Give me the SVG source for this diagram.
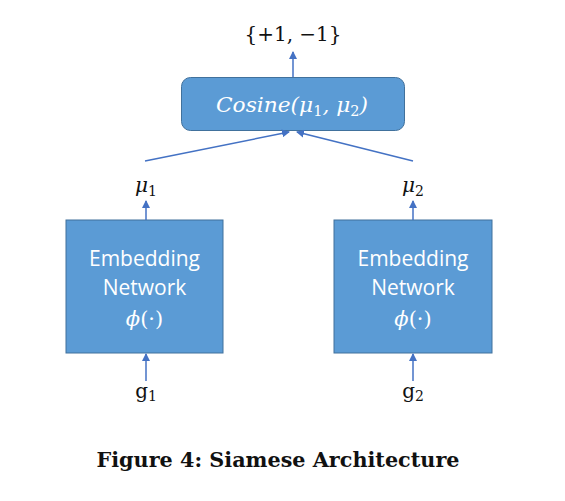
<svg xmlns="http://www.w3.org/2000/svg" width="565" height="501" viewBox="0 0 565 501">
<defs>
<marker id="ah" markerWidth="8" markerHeight="8" refX="7" refY="4" orient="auto" markerUnits="userSpaceOnUse">
<path d="M0,0 L8,4 L0,8 Z" fill="#4472C4"/>
</marker>
<style>
.box{fill:#5B9BD5;stroke:#41719C;stroke-width:1}
.wt{fill:#FFFFFF;font-family:"Open Sans","Liberation Sans",sans-serif;font-size:21px;text-anchor:middle}
.mt{fill:#FFFFFF;font-family:"DejaVu Serif","Liberation Serif",serif;font-style:italic;font-size:21px;text-anchor:middle}
.lb{fill:#111111;font-family:"DejaVu Serif","Liberation Serif",serif;font-size:20px;text-anchor:middle}
.cn{stroke:#4472C4;stroke-width:1.5;fill:none;marker-end:url(#ah)}
</style>
</defs>
<rect width="565" height="501" fill="#FFFFFF"/>
<g id="cosine">
<rect class="box" x="181.5" y="77.5" width="223" height="53" rx="9"/>
<text class="mt" x="292" y="112" textLength="152" lengthAdjust="spacingAndGlyphs">Cosine(<tspan>μ</tspan><tspan font-style="normal" font-size="14" dy="4">1</tspan><tspan dy="-4">, μ</tspan><tspan font-style="normal" font-size="14" dy="4">2</tspan><tspan dy="-4">)</tspan></text>
</g>
<g id="output">
<text class="lb" x="293" y="41">{+1, −1}</text>
</g>
<g id="embed1">
<rect class="box" x="66" y="220" width="157" height="133"/>
<text class="wt" x="144.5" y="266">Embedding</text>
<text class="wt" x="144.5" y="295">Network</text>
<text class="mt" x="144.5" y="326">ϕ<tspan font-style="normal">(·)</tspan></text>
</g>
<g id="embed2">
<rect class="box" x="334" y="220" width="158" height="133"/>
<text class="wt" x="413" y="266">Embedding</text>
<text class="wt" x="413" y="295">Network</text>
<text class="mt" x="413" y="326">ϕ<tspan font-style="normal">(·)</tspan></text>
</g>
<g id="mu1"><text class="lb" x="146" y="192" font-style="italic" font-size="21">μ<tspan font-style="normal" font-size="14" dy="4">1</tspan></text></g>
<g id="mu2"><text class="lb" x="413" y="192" font-style="italic" font-size="21">μ<tspan font-style="normal" font-size="14" dy="4">2</tspan></text></g>
<g id="g1"><text class="lb" x="146" y="398" font-size="21">g<tspan font-size="14" dy="3">1</tspan></text></g>
<g id="g2"><text class="lb" x="413" y="398" font-size="21">g<tspan font-size="14" dy="3">2</tspan></text></g>
<g id="connectors">
<line class="cn" x1="293" y1="77" x2="293" y2="52"/>
<line class="cn" x1="145" y1="161" x2="289" y2="132"/>
<line class="cn" x1="413" y1="161" x2="297" y2="132"/>
<line class="cn" x1="146" y1="220" x2="146" y2="201"/>
<line class="cn" x1="413" y1="220" x2="413" y2="201"/>
<line class="cn" x1="146" y1="381" x2="146" y2="354"/>
<line class="cn" x1="413" y1="381" x2="413" y2="354"/>
</g>
<text x="278" y="467" font-family="DejaVu Serif,serif" font-weight="bold" font-size="21" text-anchor="middle" fill="#111111" textLength="363" lengthAdjust="spacingAndGlyphs">Figure 4: Siamese Architecture</text>
</svg>
